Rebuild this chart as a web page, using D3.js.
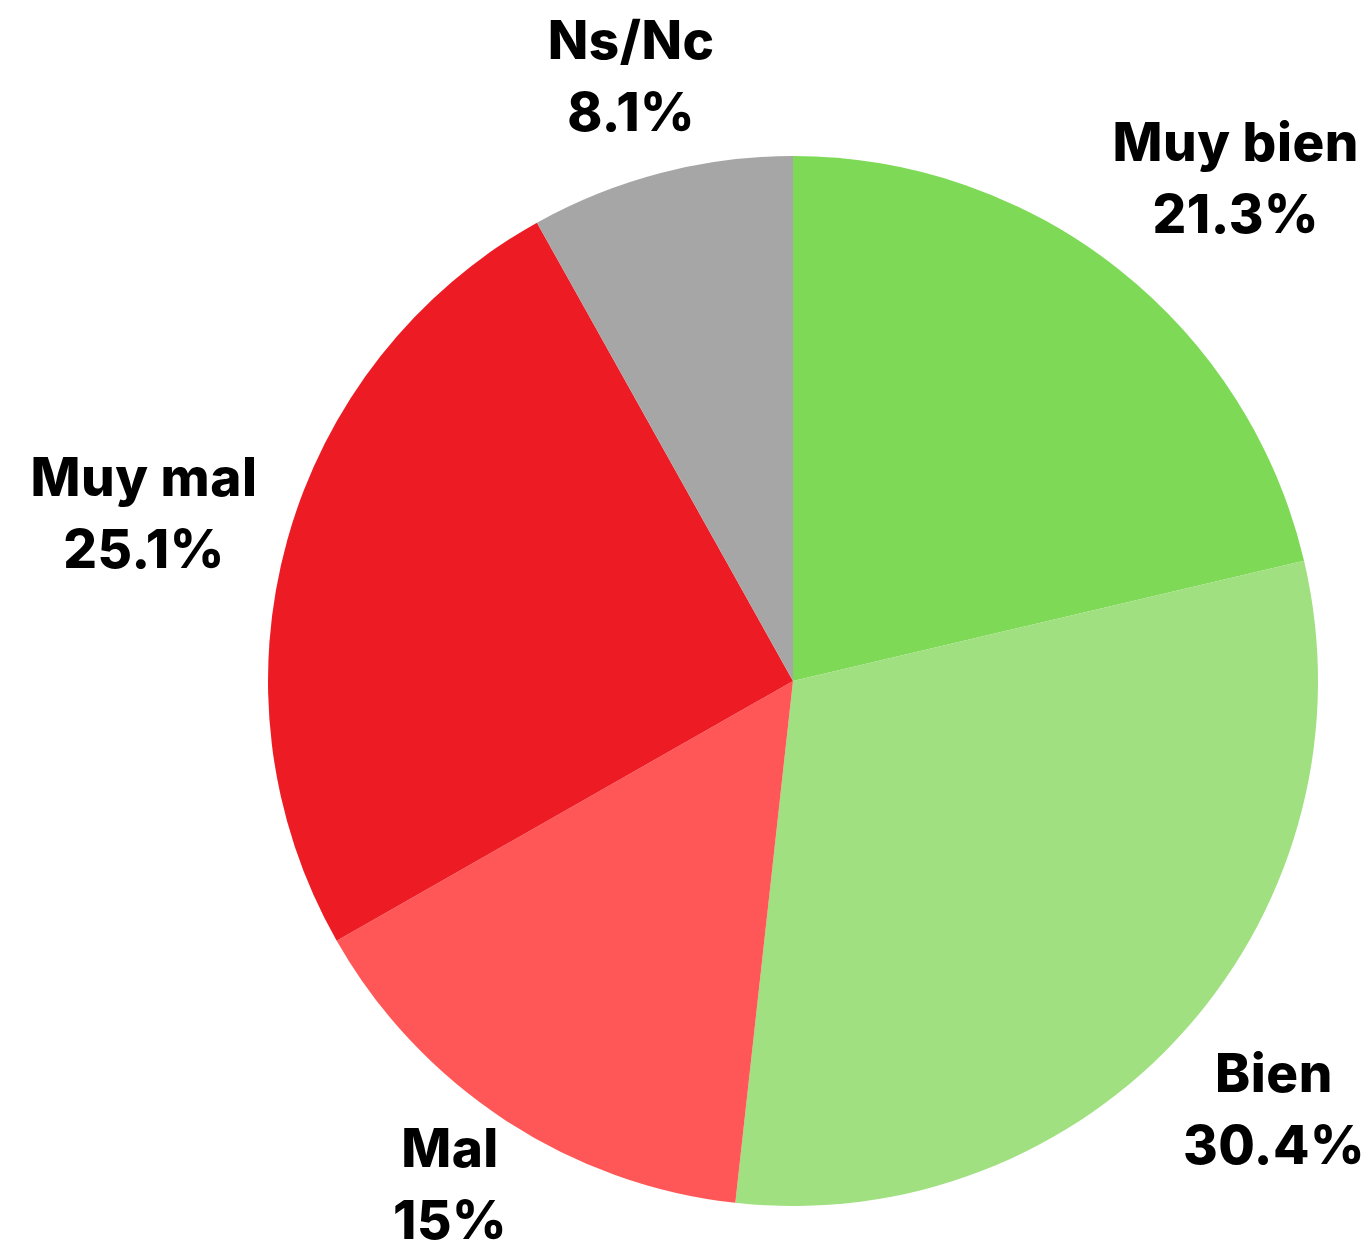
<!DOCTYPE html>
<html>
<head>
<meta charset="utf-8">
<script src="https://cdn.jsdelivr.net/npm/d3@7"></script>
<style>
  body { margin: 0; background: #fff; }
  svg text { font-family: Inter, "Noto Sans", sans-serif; font-weight: 800; fill: #000; }
</style>
</head>
<body>
<svg id="chart" width="1369" height="1256"></svg>
<script>
const categories = ['Muy bien', 'Bien', 'Mal', 'Muy mal', 'Ns/Nc'];
const values = [21.3, 30.4, 15, 25.1, 8.1];
const colors = ['#7ed957', '#a0e080', '#ff5757', '#ed1c24', '#a6a6a6'];

const width = 1369, height = 1256;
const cx = 793, cy = 681, radius = 525;
const fontSize = 53;
const capH = fontSize * 0.727;
const labelOffset = 31;
const padY = 12;
const lineGap = 72;
const edge = 4;

let svg = d3.select('#chart');
let g = svg.append('g').attr('transform', `translate(${cx},${cy})`);

let data = categories.map((c, i) => ({ name: c, val: values[i], color: colors[i] }));

let pie = d3.pie().value(d => d.val).sort(null);
let arc = d3.arc().innerRadius(0).outerRadius(radius);

let arcs = pie(data);

g.selectAll('path.slice')
    .data(arcs)
    .enter()
    .append('path')
    .classed('slice', true)
    .attr('d', arc)
    .attr('fill', d => d.data.color);

let labels = g.selectAll('text.label')
    .data(arcs)
    .enter()
    .append('text')
    .classed('label', true)
    .attr('text-anchor', 'middle')
    .style('font-size', fontSize + 'px')
    .style('letter-spacing', '0.5px');

labels.append('tspan')
    .attr('x', 0)
    .attr('y', 0)
    .text(d => d.data.name);
labels.append('tspan')
    .attr('x', 0)
    .attr('y', lineGap)
    .text(d => d.data.val + '%');

// push each label box outward from the slice edge, so its side faces the pie
labels.attr('transform', function (d) {
    let box = this.getBBox();
    let w = box.width, h = lineGap + capH;
    let a = (d.startAngle + d.endAngle) / 2;
    let vx = Math.sin(a), vy = -Math.cos(a);
    let vs = 1 / Math.max(Math.abs(vx), Math.abs(vy));
    let r = radius + labelOffset;
    let px = vx * r + w / 2 * vx * vs;
    let py = vy * r + (h / 2 + padY) * vy * vs;
    let tx = px - (box.x + w / 2);
    let ty = py - (lineGap - capH) / 2;
    // keep the whole text box inside the picture
    tx = Math.max(-cx - box.x + edge, Math.min(width - cx - box.x - box.width - edge, tx));
    ty = Math.max(-cy - box.y + edge, Math.min(height - cy - box.y - box.height - edge, ty));
    return `translate(${tx},${ty})`;
});
</script>
</body>
</html>
